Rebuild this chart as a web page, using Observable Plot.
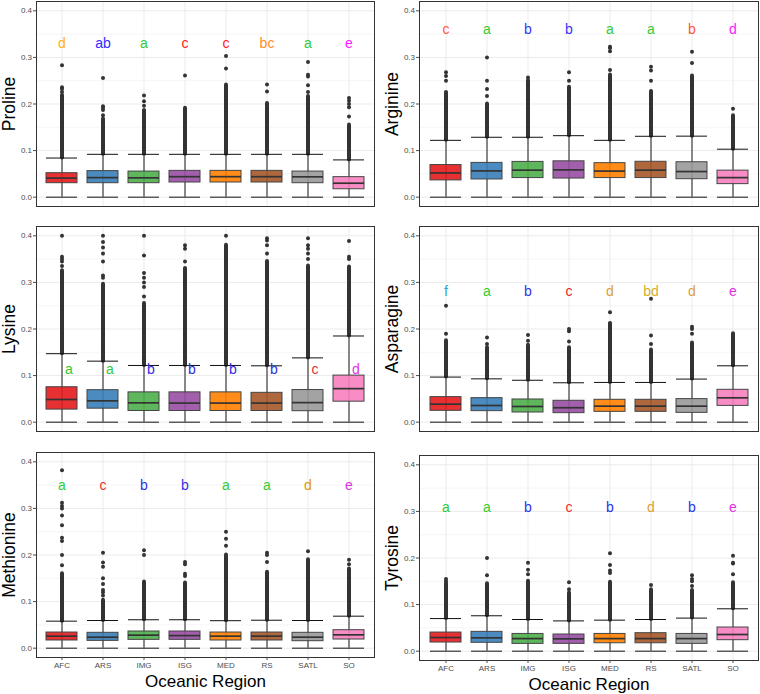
<!DOCTYPE html>
<html>
<head>
<meta charset="utf-8">
<script src="https://cdn.jsdelivr.net/npm/d3@7"></script>
<script src="https://cdn.jsdelivr.net/npm/@observablehq/plot@0.6"></script>
<style>
  html, body { margin: 0; padding: 0; background: #fff; }
  #wrap { position: relative; width: 760px; height: 694px; overflow: hidden; background: #fff; }
  .panel { position: absolute; }
  .panel svg { display: block; }
</style>
</head>
<body>
<div id="wrap"></div>
<script>
// ---- Data ----
const regions = ["AFC", "ARS", "IMG", "ISG", "MED", "RS", "SATL", "SO"];
const regionColors = ["#E41A1C", "#377EB8", "#4DAF4A", "#984EA3", "#FF7F00", "#A65628", "#999999", "#F781BF"];
const yTicks = [0, 0.1, 0.2, 0.3, 0.4];
const yMinorTicks = [0.05, 0.15, 0.25, 0.35];
const lowerWhisker = 0;

// box rows per region: [Q1, median, Q3, upper whisker, top of dense outlier run]
const prolineBox = [[0.030,0.041,0.0515,0.084,0.218],[0.030,0.042,0.056,0.092,0.168],[0.030,0.0415,0.055,0.092,0.186],[0.0315,0.044,0.0565,0.092,0.191],[0.0315,0.044,0.0565,0.092,0.241],[0.0315,0.044,0.0565,0.092,0.201],[0.030,0.0437,0.055,0.092,0.216],[0.017,0.030,0.043,0.080,0.155]];
const prolineOut = [[0.226,0.232,0.236,0.283],[0.176,0.187,0.192,0.195,0.256],[0.196,0.206,0.218],[0.261],[0.276,0.303],[0.227,0.242],[0.226,0.240,0.259,0.263,0.290],[0.173,0.193,0.200,0.207,0.213]];
const prolineLetters = ["d","ab","a","c","c","bc","a","e"];
const prolineLetterColors = ["#FFB300","#2E2EFF","#33CC33","#FF2020","#FF2020","#FF8C2E","#33CC33","#FF1AFF"];

const arginineBox = [[0.036,0.052,0.069,0.122,0.222],[0.038,0.0564,0.0736,0.1286,0.200],[0.041,0.058,0.0757,0.1286,0.250],[0.040,0.0586,0.077,0.132,0.236],[0.041,0.056,0.073,0.122,0.262],[0.041,0.058,0.076,0.1307,0.227],[0.0386,0.055,0.075,0.131,0.260],[0.028,0.042,0.057,0.103,0.175]];
const arginineOut = [[0.226,0.250,0.260,0.268],[0.217,0.232,0.250,0.300],[0.257],[0.250,0.268],[0.273,0.313,0.320,0.323],[0.250,0.272,0.280],[0.288,0.312],[0.190]];
const arginineLetters = ["c","a","b","b","a","a","b","d"];
const arginineLetterColors = ["#FF5533","#33CC33","#3333FF","#3333FF","#33CC33","#33CC33","#FF5533","#FF1AFF"];

const lysineBox = [[0.027,0.0487,0.075,0.147,0.325],[0.029,0.0458,0.0687,0.131,0.296],[0.024,0.0415,0.064,0.1217,0.255],[0.024,0.041,0.064,0.1217,0.330],[0.024,0.041,0.064,0.1217,0.380],[0.024,0.041,0.063,0.121,0.345],[0.0236,0.042,0.069,0.138,0.335],[0.044,0.072,0.100,0.185,0.333]];
const lysineOut = [[0.335,0.345,0.350,0.355,0.400],[0.310,0.315,0.345,0.362,0.375,0.387,0.400],[0.270,0.290,0.300,0.310,0.320,0.358,0.400],[0.345,0.372,0.380],[0.400],[0.362,0.380,0.390,0.395],[0.350,0.362,0.372,0.380,0.395],[0.350,0.355,0.389]];
const lysineLetters = ["a","a","b","b","b","b","c","d"];
const lysineLetterColors = ["#33CC33","#33CC33","#2E2EE6","#2E2EE6","#2E2EE6","#2E2EE6","#E62E2E","#E033E0"];

const asparagineBox = [[0.0244,0.0387,0.0538,0.0968,0.175],[0.0237,0.0358,0.0516,0.093,0.160],[0.0208,0.0337,0.0487,0.090,0.165],[0.0194,0.031,0.0459,0.0846,0.160],[0.0222,0.0344,0.048,0.0853,0.210],[0.0222,0.0344,0.048,0.0853,0.155],[0.020,0.0344,0.0495,0.0925,0.170],[0.035,0.0523,0.0695,0.121,0.190]];
const asparagineOut = [[0.190,0.250],[0.168,0.182],[0.175,0.187],[0.173,0.195,0.200],[0.213,0.236],[0.168,0.186,0.265],[0.190,0.200,0.205],[]];
const asparagineLetters = ["f","a","b","c","d","bd","d","e"];
const asparagineLetterColors = ["#2AACD8","#33CC33","#3333DD","#DD2A2A","#D9A03A","#D4B02A","#D9A03A","#DD33DD"];

const methionineBox = [[0.0165,0.0258,0.0336,0.058,0.160],[0.0157,0.0236,0.033,0.0594,0.103],[0.0179,0.028,0.0358,0.061,0.142],[0.0179,0.027,0.0358,0.061,0.140],[0.0165,0.0258,0.0336,0.059,0.200],[0.0165,0.0258,0.0336,0.060,0.163],[0.015,0.0236,0.033,0.0594,0.190],[0.0186,0.0286,0.0386,0.0687,0.170]];
const methionineOut = [[0.178,0.200,0.230,0.237,0.264,0.285,0.300,0.305,0.312,0.382],[0.113,0.120,0.125,0.138,0.150,0.175,0.184,0.205],[0.200,0.210],[0.155,0.160,0.180,0.185],[0.220,0.235,0.250],[0.185,0.200,0.205],[0.208],[0.180,0.190]];
const methionineLetters = ["a","c","b","b","a","a","d","e"];
const methionineLetterColors = ["#33CC33","#E62E2E","#2E2EE6","#2E2EE6","#33CC33","#33CC33","#DD9900","#E033E0"];

const tyrosineBox = [[0.0186,0.0293,0.040,0.070,0.145],[0.018,0.0286,0.0415,0.076,0.145],[0.0157,0.027,0.037,0.068,0.150],[0.0157,0.0265,0.0358,0.065,0.125],[0.017,0.027,0.037,0.0666,0.148],[0.017,0.027,0.0386,0.068,0.132],[0.0157,0.027,0.037,0.071,0.130],[0.0236,0.0358,0.0508,0.091,0.147]];
const tyrosineOut = [[0.150,0.155],[0.163,0.200],[0.165,0.175,0.190],[0.133,0.148],[0.168,0.173,0.185,0.210],[0.142],[0.140,0.150,0.155,0.163],[0.165,0.188,0.190,0.205]];
const tyrosineLetters = ["a","a","b","c","b","d","b","e"];
const tyrosineLetterColors = ["#33CC33","#33CC33","#2E2EE6","#E62E2E","#2E2EE6","#D9A03A","#2E2EE6","#E033E0"];

// ---- Drawing ----
const FONT = "'Liberation Sans', Arial, Helvetica, sans-serif";

function panel(cfg) {
  const rows = regions.map((r, i) => ({
    region: r,
    lo: lowerWhisker,
    q1: cfg.box[i][0], med: cfg.box[i][1], q3: cfg.box[i][2],
    hi: cfg.box[i][3], dense: cfg.box[i][4],
    color: regionColors[i],
    letter: cfg.letters[i], lcolor: cfg.letterColors[i]
  }));
  const outs = regions.flatMap((r, i) => cfg.out[i].map(v => ({region: r, v})));
  const frameH = 205;
  const marks = [
    Plot.gridY(yMinorTicks, {stroke: "#F0F0F0", strokeOpacity: 1, strokeWidth: 0.6}),
    Plot.gridY(yTicks, {stroke: "#EBEBEB", strokeOpacity: 1, strokeWidth: 1}),
    Plot.gridX(regions, {stroke: "#EBEBEB", strokeOpacity: 1, strokeWidth: 1}),
    Plot.ruleX(rows, {x: "region", y1: "lo", y2: "hi", stroke: "#1a1a1a", strokeWidth: 1}),
    Plot.ruleX(rows, {x: "region", y1: "hi", y2: "dense", stroke: "#333", strokeWidth: 4, strokeLinecap: "round"}),
    Plot.dot(outs, {x: "region", y: "v", r: 2, fill: "#333", stroke: null}),
    Plot.barY(rows, {x: "region", y1: "q1", y2: "q3", fill: "color", fillOpacity: 0.9, stroke: "#454545", strokeWidth: 1}),
    Plot.tickY(rows, {x: "region", y: "med", stroke: "#333", strokeWidth: 1.7}),
    Plot.tickY(rows, {x: "region", y: "hi", stroke: "#111", strokeWidth: 1}),
    Plot.tickY(rows, {x: "region", y: "lo", stroke: "#111", strokeWidth: 1}),
    Plot.text(rows, {x: "region", y: cfg.letterY, text: "letter", fill: "lcolor", fontSize: 14, dx: cfg.letterDx || 0}),
    Plot.frame({stroke: "#333", strokeWidth: 1}),
    Plot.axisY(yTicks, {tickFormat: d3.format(".1f"), tickSize: 3, tickPadding: 1.5, fontSize: 8, color: "#4D4D4D", label: null}),
    Plot.text([cfg.label], {text: d => d, frameAnchor: "left", dx: -27.5, rotate: -90, fontSize: 17.5, fill: "#000", textAnchor: "middle", lineAnchor: "middle"})
  ];
  if (cfg.bottom) {
    marks.push(Plot.axisX(regions, {tickSize: 3, tickPadding: 1.5, fontSize: 8, color: "#4D4D4D", label: null}));
    marks.push(Plot.text(["Oceanic Region"], {text: d => d, frameAnchor: "bottom", dy: 24.5, fontSize: 17, fill: "#000", textAnchor: "middle", lineAnchor: "middle"}));
  }
  const chart = Plot.plot({
    width: 380,
    height: cfg.marginTop + frameH + cfg.marginBottom,
    marginTop: cfg.marginTop,
    marginBottom: cfg.marginBottom,
    marginLeft: cfg.marginLeft,
    marginRight: cfg.marginRight,
    style: {fontFamily: FONT, background: "white", overflow: "visible"},
    x: {type: "band", domain: regions, paddingInner: 0.25, paddingOuter: 0.225, axis: null},
    y: {domain: [-0.02, 0.42], axis: null},
    color: {type: "identity"},
    marks
  });
  const div = document.createElement("div");
  div.className = "panel";
  div.style.left = cfg.left + "px";
  div.style.top = cfg.top + "px";
  div.appendChild(chart);
  document.getElementById("wrap").appendChild(div);
}

const L = {left: 0, marginLeft: 36, marginRight: 6};
const R = {left: 380, marginLeft: 39, marginRight: 2};

panel({...L, top: 0, marginTop: 1, marginBottom: 2, label: "Proline", box: prolineBox, out: prolineOut, letters: prolineLetters, letterColors: prolineLetterColors, letterY: 0.33});
panel({...R, top: 0, marginTop: 1, marginBottom: 2, label: "Arginine", box: arginineBox, out: arginineOut, letters: arginineLetters, letterColors: arginineLetterColors, letterY: 0.36});
panel({...L, top: 224, marginTop: 2, marginBottom: 2, label: "Lysine", box: lysineBox, out: lysineOut, letters: lysineLetters, letterColors: lysineLetterColors, letterY: 0.113, letterDx: 7});
panel({...R, top: 224, marginTop: 2, marginBottom: 2, label: "Asparagine", box: asparagineBox, out: asparagineOut, letters: asparagineLetters, letterColors: asparagineLetterColors, letterY: 0.28});
panel({...L, top: 450, marginTop: 2, marginBottom: 37, label: "Methionine", box: methionineBox, out: methionineOut, letters: methionineLetters, letterColors: methionineLetterColors, letterY: 0.35, bottom: true});
panel({...R, top: 453, marginTop: 2, marginBottom: 34, label: "Tyrosine", box: tyrosineBox, out: tyrosineOut, letters: tyrosineLetters, letterColors: tyrosineLetterColors, letterY: 0.308, bottom: true});
</script>
</body>
</html>
